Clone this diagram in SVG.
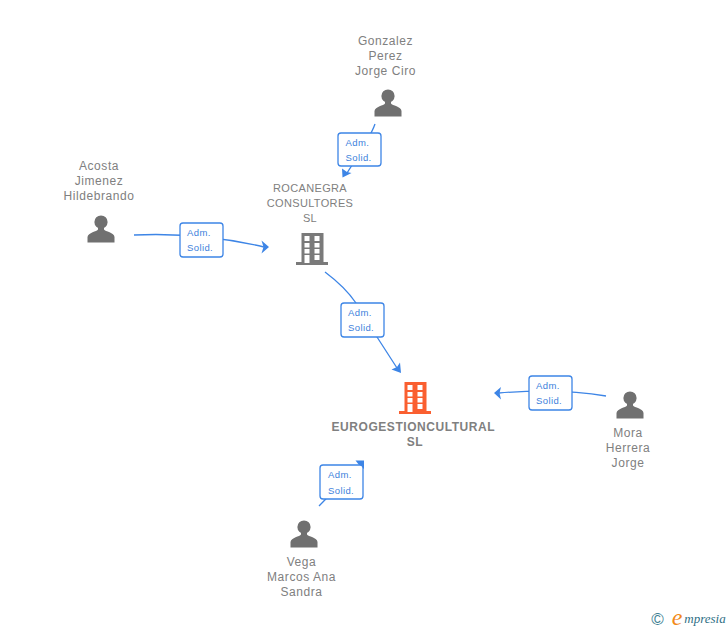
<svg xmlns="http://www.w3.org/2000/svg" width="728" height="630" viewBox="0 0 728 630">
<style>
text{font-family:"Liberation Sans",Arial,sans-serif;font-size:12px;fill:#808080;text-anchor:middle;letter-spacing:.55px}
.s{font-size:11px;letter-spacing:.35px}
.b{font-weight:bold;letter-spacing:.55px}
.c{fill:none;stroke:#3d85e6;stroke-width:1.3}
.a{fill:#3d85e6}
.box{fill:#fff;stroke:#3d85e6;stroke-width:1.3}
.l{font-size:9.5px;fill:#3d7fdc;text-anchor:start;letter-spacing:.4px}
.p{fill:#707070}
.g{fill:#7a7a7a}
.o{fill:#fa5f30}
.w{fill:#fff}
</style>
<defs>
<g id="person"><circle cx="0" cy="-11" r="6.6"/><path d="M-3-6V-3.500C-4-1.500-13-.5-13.500 4V9.500H13.500V4C13.500-.5 4-1.500 3-3.500V-6Z"/></g>
<g id="bld"><path d="M-10.500-16H11.500V13H16V16H-16V13H-10.500Z"/><path class="w" d="M-7.500-13h5v5h-5zM2.500-13h5v5h-5zM-7.500-6h5v4.500h-5zM2.500-6h5v4.500h-5zM-7.500 0h5v4.500h-5zM2.500 0h5v4.500h-5zM-7.500 6h5v8h-5zM2.500 6h5v5h-5z"/></g>
</defs>
<g id="connectors">
<path class="c" d="M375 124Q371 136 347 173"/><path class="a" d="M342.500 177.500L342 168.500L347 172L351.500 173Z"/>
<path class="c" d="M134 235Q200 232 264 247"/><path class="a" d="M269 247L261.500 240.500L263.500 247L261.500 253.500Z"/>
<path class="c" d="M325 272Q345 287 356 303L377 337L397 368"/><path class="a" d="M401 373L391.500 369.500L397 367L400 362.500Z"/>
<path class="c" d="M606 396Q560 388 499 393"/><path class="a" d="M494 393L501 387L499.500 393L501 399.500Z"/>
<path class="c" d="M319 506L358 466"/><path class="a" d="M364 460.500H355.500L359 465L364 469Z"/>
</g>
<g id="edge-labels">
<rect class="box" x="338" y="133" width="43" height="33" rx="3"/><text class="l" x="345.500" y="146">Adm.</text><text class="l" x="345.500" y="161">Solid.</text>
<rect class="box" x="180" y="223" width="43" height="34" rx="3"/><text class="l" x="187" y="236">Adm.</text><text class="l" x="187" y="251">Solid.</text>
<rect class="box" x="341" y="303" width="43" height="34" rx="3"/><text class="l" x="348" y="316">Adm.</text><text class="l" x="348" y="331">Solid.</text>
<rect class="box" x="529" y="376" width="43" height="34" rx="3"/><text class="l" x="536" y="389">Adm.</text><text class="l" x="536" y="404">Solid.</text>
<rect class="box" x="320" y="465" width="43" height="34" rx="3"/><text class="l" x="328" y="478">Adm.</text><text class="l" x="328" y="494">Solid.</text>
</g>
<g id="node-gonzalez"><use href="#person" class="p" x="388" y="107"/><text x="385.500" y="45">Gonzalez</text><text x="385.500" y="60">Perez</text><text x="385.500" y="75">Jorge Ciro</text></g>
<g id="node-acosta"><use href="#person" class="p" x="101" y="233"/><text x="99" y="170">Acosta</text><text x="99" y="185">Jimenez</text><text x="99" y="200">Hildebrando</text></g>
<g id="node-rocanegra"><use href="#bld" class="g" x="312" y="249"/><text class="s" x="310" y="192">ROCANEGRA</text><text class="s" x="310" y="207">CONSULTORES</text><text class="s" x="310" y="222">SL</text></g>
<g id="node-eurogestion"><use href="#bld" class="o" x="415" y="398"/><text class="b" x="413.300" y="431">EUROGESTIONCULTURAL</text><text class="b" x="415" y="446">SL</text></g>
<g id="node-mora"><use href="#person" class="p" x="630" y="409"/><text x="628" y="437">Mora</text><text x="628" y="452">Herrera</text><text x="628" y="467">Jorge</text></g>
<g id="node-vega"><use href="#person" class="p" x="304" y="538"/><text x="301.500" y="566">Vega</text><text x="301.500" y="581">Marcos Ana</text><text x="301.500" y="596">Sandra</text></g>
<g id="logo"><text x="657.500" y="625" style="font-size:17px;letter-spacing:0;fill:#3f7f93">©</text><text x="677" y="625" style="font-family:'Liberation Serif',serif;font-style:italic;font-size:24px;letter-spacing:0;fill:#f28a1a">e</text><text x="705" y="623" style="font-family:'Liberation Serif',serif;font-style:italic;font-size:13px;fill:#2f6f85;letter-spacing:0">mpresia</text></g>
</svg>
